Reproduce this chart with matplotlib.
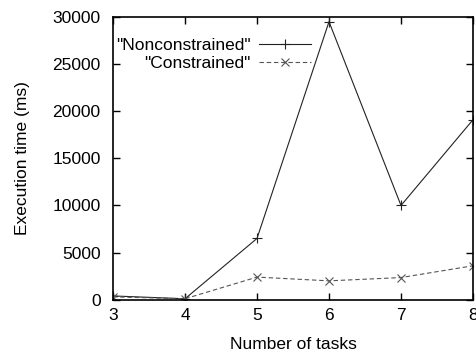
import matplotlib
matplotlib.use("Agg")
import matplotlib.pyplot as plt

plt.rcParams['font.family'] = ['Liberation Sans', 'DejaVu Sans']

tasks = [3, 4, 5, 6, 7, 8]
nonconstrained = [400, 100, 6500, 29500, 10000, 19100]
constrained = [300, 100, 2400, 2000, 2350, 3600]

FS = 12.5

fig = plt.figure(figsize=(4.76, 3.54), dpi=100)
ax = fig.add_axes([113/476, 1 - 299.7/354, 360/476, 282.7/354])

ax.plot(tasks, nonconstrained, color='#222222', lw=0.8, marker='+',
        markersize=7, markeredgewidth=0.8, label='"Nonconstrained"')
ax.plot(tasks, constrained, color='#555555', lw=0.8, ls=(0, (4, 2.5)), marker='x',
        markersize=6, markeredgewidth=0.8, label='"Constrained"')

ax.set_xlim(3, 8)
ax.set_ylim(0, 30000)
ax.set_xticks(tasks)
ax.set_yticks(range(0, 30001, 5000))
ax.tick_params(direction='in', length=5, width=1, top=True, right=True,
               labelsize=FS, color='black')
ax.tick_params(axis='y', pad=9)
ax.tick_params(axis='x', pad=6)
for s in ax.spines.values():
    s.set_linewidth(1.2)

ax.set_xlabel('Number of tasks', fontsize=FS, labelpad=10)
ax.set_ylabel('Execution time (ms)', fontsize=FS, labelpad=16)

leg = ax.legend(loc='upper left', bbox_to_anchor=(0.008, 0.925), frameon=False,
                markerfirst=False, fontsize=FS, handlelength=3.0, handletextpad=0.5,
                labelspacing=0.15, borderpad=0, borderaxespad=0)

fig.savefig('out.png', dpi=100)
